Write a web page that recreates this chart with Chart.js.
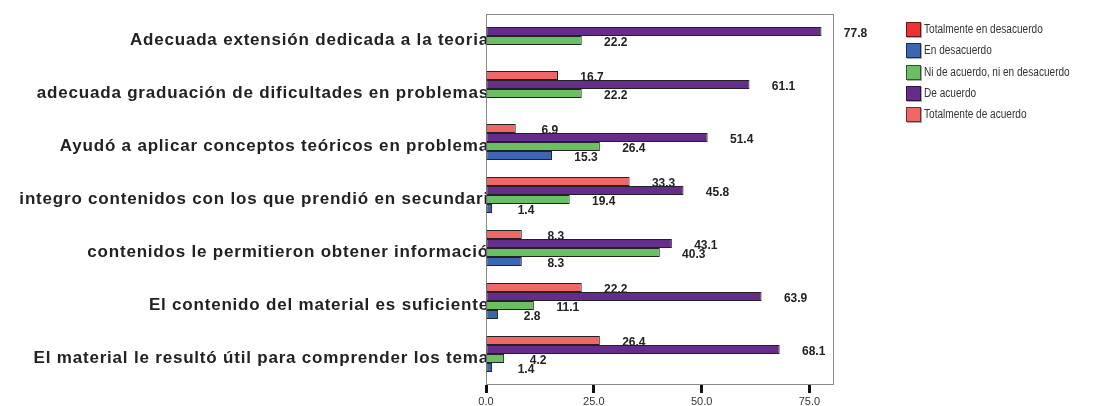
<!DOCTYPE html>
<html>
<head>
<meta charset="utf-8">
<script src="https://cdn.jsdelivr.net/npm/chart.js@4/dist/chart.umd.min.js"></script>
<style>
  html, body { margin: 0; padding: 0; background: #fff; }
  #wrap { position: relative; width: 1102px; height: 406px; }
  #legend { position: absolute; left: 906px; top: 22px; font: 12px "Liberation Sans", Arial, sans-serif; color: #333; }
  #legend div { height: 21.3px; display: flex; align-items: flex-start; white-space: nowrap; }
  #legend span.box { display: inline-block; width: 13px; height: 13px; border: 1px solid rgba(0,0,0,0.55); margin-right: 3px; box-shadow: 1px 1px 0 #aaa; }
  #legend span.txt { display: inline-block; transform: scaleX(0.84); transform-origin: left center; }
</style>
</head>
<body>
<div id="wrap">
  <canvas id="bar-chart" width="1102" height="406"></canvas>
  <div id="legend"></div>
</div>
<script>
const categories = [
    'Adecuada extensión dedicada a la teoria',
    'adecuada graduación de dificultades en problemas',
    'Ayudó a aplicar conceptos teóricos en problema',
    'integro contenidos con los que prendió en secundari',
    'contenidos le permitieron obtener informació',
    'El contenido del material es suficiente',
    'El material le resultó útil para comprender los tema'
]

// order of the legend
const seriesNames = [
    'Totalmente en desacuerdo',
    'En desacuerdo',
    'Ni de acuerdo, ni en desacuerdo',
    'De acuerdo',
    'Totalmente de acuerdo'
]
const seriesColors = ['#ec3237', '#3b66b4', '#69bf62', '#652c8c', '#f06767']

const totalDesacuerdo = [null, null, null, null, null, null, null]
const enDesacuerdo = [null, null, 15.3, 1.4, 8.3, 2.8, 1.4]
const niNi = [22.2, 22.2, 26.4, 19.4, 40.3, 11.1, 4.2]
const deAcuerdo = [77.8, 61.1, 51.4, 45.8, 43.1, 63.9, 68.1]
const totalAcuerdo = [null, 16.7, 6.9, 33.3, 8.3, 22.2, 26.4]

const xTicks = [0, 25, 50, 75]
const xMax = 80.7

const seriesValues = [totalDesacuerdo, enDesacuerdo, niNi, deAcuerdo, totalAcuerdo]
const FONT = '"Liberation Sans", Arial, sans-serif'

// bars are stacked top-down in the reverse of the legend order
const datasets = []
for (let i = seriesNames.length - 1; i >= 0; i--) {
    datasets.push({
        label: seriesNames[i],
        data: seriesValues[i],
        backgroundColor: seriesColors[i],
        borderColor: '#222',
        borderWidth: 1,
        borderSkipped: false,
        categoryPercentage: 0.85,
        barPercentage: 1.0
    })
}

// the category text in the original is spaced out a bit
// (x tick labels have z:1 so they are drawn after this is reset)
const spacing = {
    id: 'spacing',
    beforeDraw(chart) { chart.ctx.letterSpacing = '0.8px' },
    beforeDatasetsDraw(chart) { chart.ctx.letterSpacing = '0px' }
}

const valueLabels = {
    id: 'valueLabels',
    afterDatasetsDraw(chart) {
        const ctx = chart.ctx
        ctx.save()
        ctx.font = 'bold 12px ' + FONT
        ctx.fillStyle = '#222'
        ctx.textAlign = 'center'
        ctx.textBaseline = 'middle'
        chart.data.datasets.forEach((ds, di) => {
            chart.getDatasetMeta(di).data.forEach((bar, j) => {
                const v = ds.data[j]
                if (v == null) return
                ctx.fillText(v.toFixed(1), bar.x + 34, bar.y + 2)
            })
        })
        ctx.restore()
    }
}

const frame = {
    id: 'frame',
    beforeDatasetsDraw(chart) {
        const a = chart.chartArea
        const ctx = chart.ctx
        ctx.save()
        ctx.strokeStyle = '#8a8a8a'
        ctx.lineWidth = 1
        ctx.strokeRect(a.left + 0.5, a.top + 0.5, a.right - a.left - 1, a.bottom - a.top - 1)
        ctx.restore()
    }
}

const config = {
    type: 'bar',
    data: {
        labels: categories,
        datasets: datasets
    },
    options: {
        indexAxis: 'y',
        responsive: false,
        animation: false,
        layout: { padding: { top: 14, right: 268, bottom: 0, left: 0 } },
        plugins: {
            legend: { display: false },
            tooltip: { enabled: false }
        },
        scales: {
            x: {
                min: 0,
                max: xMax,
                afterBuildTicks: (s) => { s.ticks = xTicks.map(v => ({ value: v })) },
                afterFit: (s) => { s.height = 21 },
                grid: {
                    drawOnChartArea: false,
                    drawTicks: true,
                    tickLength: 8,
                    tickWidth: 3,
                    tickColor: '#111'
                },
                border: { display: false },
                ticks: {
                    z: 1,
                    padding: 2,
                    color: '#333',
                    font: { family: FONT, size: 11 },
                    callback: (v) => Number(v).toFixed(1)
                }
            },
            y: {
                afterFit: (s) => { s.width = 486 },
                grid: { display: false, drawTicks: false },
                border: { display: false },
                ticks: {
                    padding: -3,
                    color: '#222',
                    font: { family: FONT, size: 17, weight: 'bold' }
                }
            }
        }
    },
    plugins: [spacing, frame, valueLabels]
}

const myChart = new Chart(document.getElementById('bar-chart'), config)

const legend = document.getElementById('legend')
seriesNames.forEach((name, i) => {
    const row = document.createElement('div')
    const box = document.createElement('span')
    box.className = 'box'
    box.style.background = seriesColors[i]
    const txt = document.createElement('span')
    txt.className = 'txt'
    txt.textContent = name
    row.appendChild(box)
    row.appendChild(txt)
    legend.appendChild(row)
})
</script>
</body>
</html>
